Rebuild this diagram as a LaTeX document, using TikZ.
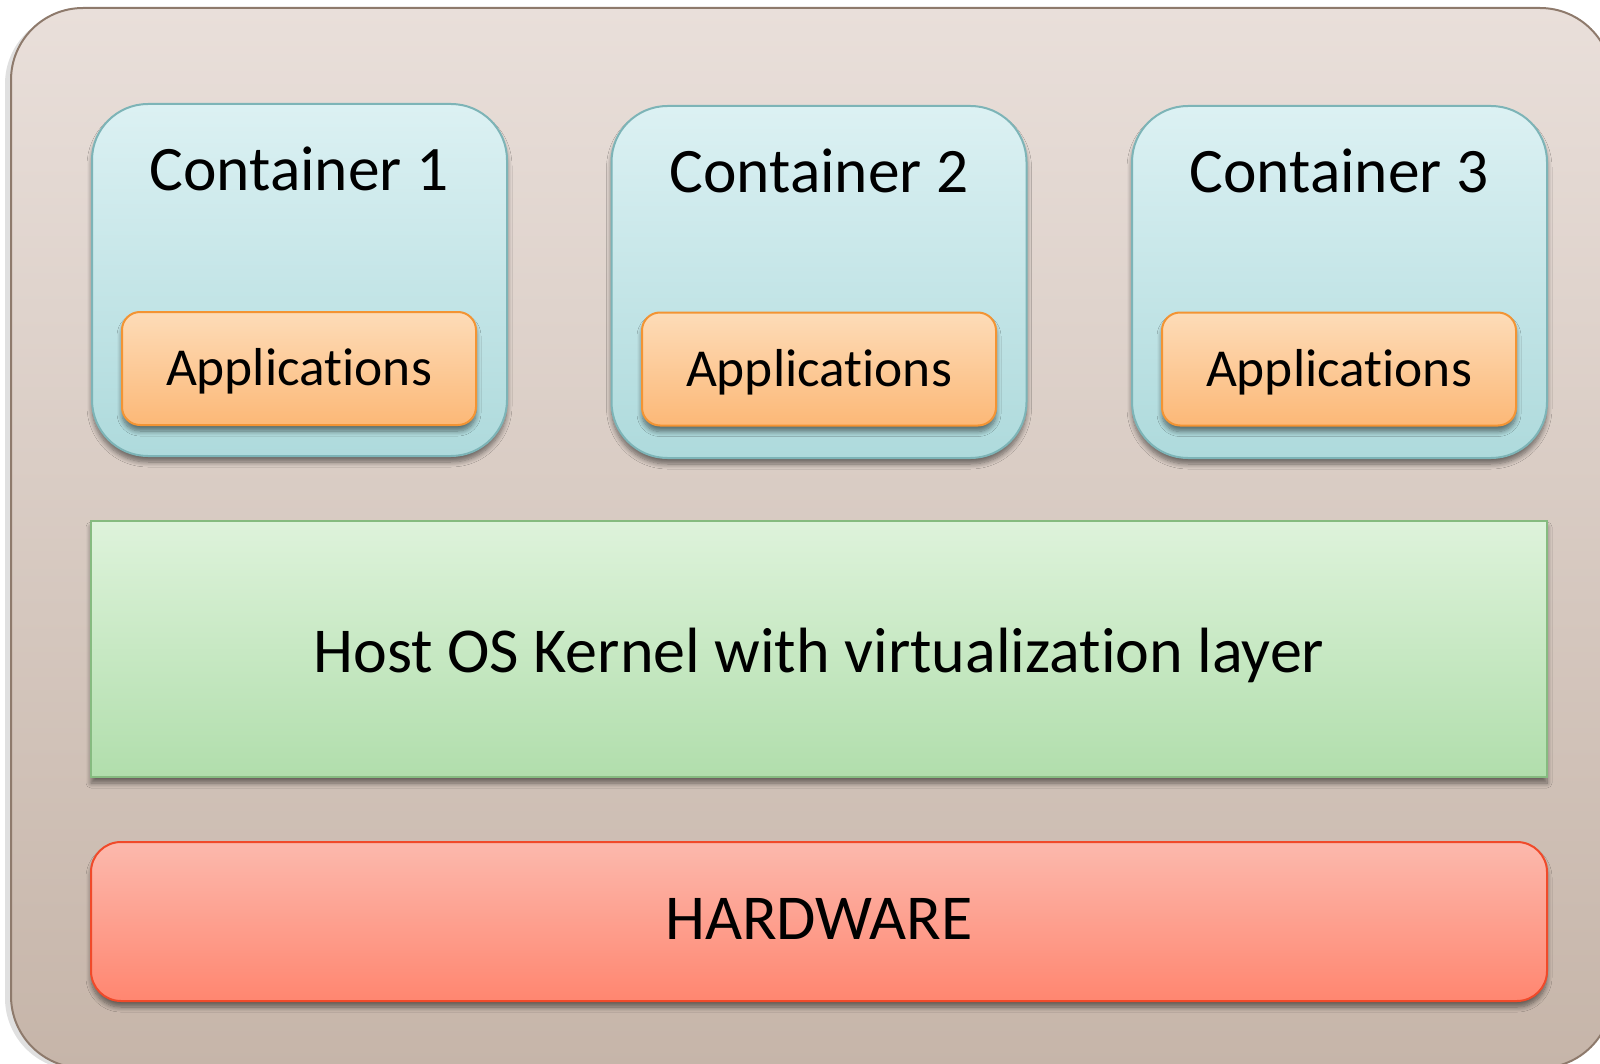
\documentclass[tikz,border=0pt]{standalone}
\usepackage{fontspec}
\setmainfont{Carlito}[Ligatures=NoCommon]
\usetikzlibrary{shadows.blur}
\definecolor{outerTop}{HTML}{E9DFDA}
\definecolor{outerBot}{HTML}{C6B5A9}
\definecolor{outerLine}{HTML}{8E7A6C}
\definecolor{contTop}{HTML}{DCF1F3}
\definecolor{contBot}{HTML}{AEDADC}
\definecolor{contLine}{HTML}{7DB4B7}
\definecolor{appTop}{HTML}{FDDCB8}
\definecolor{appBot}{HTML}{FCB877}
\definecolor{appLine}{HTML}{F39433}
\definecolor{kernTop}{HTML}{DEF3DB}
\definecolor{kernBot}{HTML}{B1DEAC}
\definecolor{kernLine}{HTML}{86BB80}
\definecolor{hwTop}{HTML}{FCB9AD}
\definecolor{hwBot}{HTML}{FF8670}
\definecolor{hwLine}{HTML}{F04A2A}
\tikzset{
  soft/.style={blur shadow={shadow xshift=0pt, shadow yshift=-3pt,
      shadow blur radius=2.5pt, shadow blur steps=8, shadow opacity=50}},
  container/.style={draw=contLine, line width=1pt, rounded corners=28pt,
      top color=contTop, bottom color=contBot, soft,
      minimum width=207.5pt, minimum height=176pt, inner sep=0pt},
  appbox/.style={draw=appLine, line width=1pt, rounded corners=9pt,
      top color=appTop, bottom color=appBot, soft,
      minimum width=177pt, minimum height=56.5pt, inner sep=0pt},
  kernel/.style={draw=kernLine, line width=1pt,
      top color=kernTop, bottom color=kernBot, soft,
      minimum width=728pt, minimum height=128pt, inner sep=0pt},
  hardware/.style={draw=hwLine, line width=1pt, rounded corners=15pt,
      top color=hwTop, bottom color=hwBot, soft,
      minimum width=728pt, minimum height=79.5pt, inner sep=0pt},
  title/.style={font=\fontsize{31.7}{36}\selectfont, inner sep=0pt, anchor=base},
  applabel/.style={font=\fontsize{26.7}{30}\selectfont, inner sep=0pt, anchor=base},
  layerlabel/.style={font=\fontsize{32}{38}\selectfont, inner sep=0pt, anchor=base}
}
\begin{document}
\begin{tikzpicture}[x=0.5pt, y=-0.5pt]
\useasboundingbox (0,0) rectangle (1600,1064);
\clip (0,0) rectangle (1600,1064);
% outer frame
\fill[black, opacity=0.12, rounded corners=36pt] (5,12) rectangle (1606,1070);
\draw[outerLine, line width=1pt, rounded corners=36pt,
      top color=outerTop, bottom color=outerBot] (11,8) rectangle (1612,1068);
% containers
\node[container] (c1) at (299.5,280) {};
\node[container] (c2) at (819,282) {};
\node[container] (c3) at (1339.5,282) {};
\node[title] (t1) at (299,191) {Container 1};
\node[title] (t2) at (819,193) {Container 2};
\node[title] (t3) at (1339,193) {Container 3};
% application boxes
\node[appbox] (a1) at (299,368.5) {};
\node[appbox] (a2) at (819,369) {};
\node[appbox] (a3) at (1339,369) {};
\node[applabel] (l1) at (299,385) {Applications};
\node[applabel] (l2) at (819,386) {Applications};
\node[applabel] (l3) at (1339,386) {Applications};
% layers
\node[kernel] (k) at (819,649) {};
\node[layerlabel] (kl) at (819,672) {Host OS Kernel with virtualization layer};
\node[hardware] (hw) at (819,921.5) {};
\node[layerlabel] (hl) at (819,939) {HARDWARE};
\end{tikzpicture}
\end{document}
